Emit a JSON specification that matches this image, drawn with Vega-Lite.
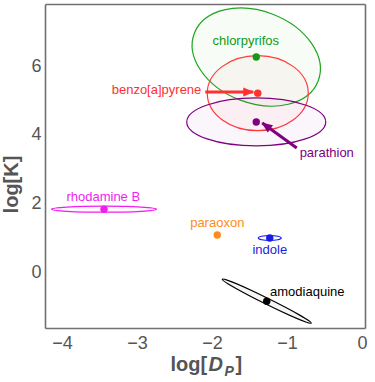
{
  "$schema": "https://vega.github.io/schema/vega-lite/v6.json",
  "width": 320,
  "height": 324,
  "autosize": "none",
  "padding": {"left": 45, "top": 4, "right": 10, "bottom": 54},
  "background": "white",
  "config": {"view": {"stroke": null}},
  "data": {"values": [
    {"name": "chlorpyrifos", "x": -1.41, "y": 6.26, "lx": -1.55, "ly": 6.73},
    {"name": "benzo[a]pyrene", "x": -1.39, "y": 5.21, "lx": -2.74, "ly": 5.3, "ax": -2.09, "ay": 5.24, "ax2": -1.45, "ay2": 5.24},
    {"name": "parathion", "x": -1.41, "y": 4.37, "lx": -0.47, "ly": 3.47, "ax": -0.87, "ay": 3.61, "ax2": -1.33, "ay2": 4.34},
    {"name": "rhodamine B", "x": -3.44, "y": 1.83, "lx": -3.45, "ly": 2.18},
    {"name": "paraoxon", "x": -1.93, "y": 1.08, "lx": -1.93, "ly": 1.43},
    {"name": "indole", "x": -1.23, "y": 0.99, "lx": -1.23, "ly": 0.64},
    {"name": "amodiaquine", "x": -1.27, "y": -0.85, "lx": -0.73, "ly": -0.58}
  ]},
  "resolve": {"axis": {"x": "independent", "y": "independent"}},
  "layer": [
    {
      "transform": [{"filter": "datum.name != 'paraoxon'"}],
      "mark": {"type": "point", "filled": true, "size": 4, "opacity": 1, "fillOpacity": 0.035, "strokeOpacity": 1, "strokeWidth": 1.2},
      "encoding": {
        "x": {"field": "x", "type": "quantitative", "scale": {"domain": [-4.227, 0.04], "nice": false, "zero": false},
          "axis": {"orient": "bottom", "values": [-4.2,-4,-3.8,-3.6,-3.4,-3.2,-3,-2.8,-2.6,-2.4,-2.2,-2,-1.8,-1.6,-1.4,-1.2,-1,-0.8,-0.6,-0.4,-0.2,0],
            "format": ".0f", "labelExpr": "abs(datum.value-round(datum.value))<0.01 ? datum.label : ''",
            "tickSize": 0, "labelPadding": 6, "labelFontSize": 18, "labelColor": "#555555", "labelFont": "Liberation Sans",
            "labelFlush": false, "labelOverlap": false, "grid": false,
            "domainColor": "#707070", "domainWidth": 1.6, "tickColor": "#707070", "tickWidth": 1.1,
            "title": "log[", "titleFont": "Liberation Sans", "titleFontWeight": "bold", "titleFontSize": 20, "titleColor": "#555555",
            "titleX": 125, "titleY": 42, "titleAlign": "left", "titleBaseline": "alphabetic", "titleAnchor": "start",
            "encode": {"ticks": {"update": {"y2": {"signal": "abs(datum.value-round(datum.value))<0.01 ? -6 : -3.5"}}}}}},
        "y": {"field": "y", "type": "quantitative", "scale": {"domain": [-1.631, 7.806], "nice": false, "zero": false},
          "axis": {"orient": "left", "values": [-1.5,-1,-0.5,0,0.5,1,1.5,2,2.5,3,3.5,4,4.5,5,5.5,6,6.5,7,7.5],
            "format": ".0f", "labelExpr": "abs(datum.value/2-round(datum.value/2))<0.01 ? datum.label : ''",
            "tickSize": 0, "labelPadding": 4, "labelFontSize": 18, "labelColor": "#555555", "labelFont": "Liberation Sans",
            "labelFlush": false, "labelOverlap": false, "grid": false,
            "domainColor": "#707070", "domainWidth": 1.6, "tickColor": "#707070", "tickWidth": 1.1,
            "title": "log[K]", "titleFont": "Liberation Sans", "titleFontWeight": "bold", "titleFontSize": 20, "titleColor": "#555555",
            "titleX": -34, "titleY": 180, "titleAlign": "center", "titleBaseline": "middle", "titleAngle": -90,
            "encode": {"ticks": {"update": {"x2": {"signal": "abs(datum.value/2-round(datum.value/2))<0.01 ? 6 : 3.5"}}}}}},
        "shape": {"field": "name", "type": "nominal", "legend": null, "scale": {
          "domain": ["chlorpyrifos", "benzo[a]pyrene", "parathion", "rhodamine B", "indole", "amodiaquine"],
          "range": [
            "M -61.9 -23.9 A 66.3 45.9 21.1 1 0 61.9 23.9 A 66.3 45.9 21.1 1 0 -61.9 -23.9 Z",
            "M -50.5 0 A 50.5 37.5 0 1 0 50.5 0 A 50.5 37.5 0 1 0 -50.5 0 Z",
            "M -69.5 0 A 69.5 24 0 1 0 69.5 0 A 69.5 24 0 1 0 -69.5 0 Z",
            "M -52.5 0 A 52.5 3 0 1 0 52.5 0 A 52.5 3 0 1 0 -52.5 0 Z",
            "M -11.5 0 A 11.5 2.5 0 1 0 11.5 0 A 11.5 2.5 0 1 0 -11.5 0 Z",
            "M -44.5 -22 A 49.6 3 26.3 1 0 44.5 22 A 49.6 3 26.3 1 0 -44.5 -22 Z"
          ]}},
        "fill": {"field": "name", "type": "nominal", "legend": null, "scale": {
          "domain": ["chlorpyrifos", "benzo[a]pyrene", "parathion", "rhodamine B", "paraoxon", "indole", "amodiaquine"],
          "range": ["#1fa51f", "#ff3b3b", "#800080", "#f01ef0", "#ff8c1a", "#1a1ae6", "#000000"]}},
        "stroke": {"field": "name", "type": "nominal", "legend": null, "scale": {
          "domain": ["chlorpyrifos", "benzo[a]pyrene", "parathion", "rhodamine B", "paraoxon", "indole", "amodiaquine"],
          "range": ["#1fa51f", "#ff3b3b", "#800080", "#f01ef0", "#ff8c1a", "#1a1ae6", "#000000"]}}
      }
    },
    {
      "mark": {"type": "circle", "size": 55, "opacity": 1},
      "encoding": {
        "x": {"field": "x", "type": "quantitative",
          "axis": {"orient": "top", "values": [-4.2,-4,-3.8,-3.6,-3.4,-3.2,-3,-2.8,-2.6,-2.4,-2.2,-2,-1.8,-1.6,-1.4,-1.2,-1,-0.8,-0.6,-0.4,-0.2,0],
            "labels": false, "tickSize": 0, "grid": false, "title": null,
            "domainColor": "#707070", "domainWidth": 1.6, "tickColor": "#707070", "tickWidth": 1.1,
            "encode": {"ticks": {"update": {"y2": {"signal": "abs(datum.value-round(datum.value))<0.01 ? 6 : 3.5"}}}}}},
        "y": {"field": "y", "type": "quantitative",
          "axis": {"orient": "right", "values": [-1.5,-1,-0.5,0,0.5,1,1.5,2,2.5,3,3.5,4,4.5,5,5.5,6,6.5,7,7.5],
            "labels": false, "tickSize": 0, "grid": false, "title": null,
            "domainColor": "#707070", "domainWidth": 1.6, "tickColor": "#707070", "tickWidth": 1.1,
            "encode": {"ticks": {"update": {"x2": {"signal": "abs(datum.value/2-round(datum.value/2))<0.01 ? -6 : -3.5"}}}}}},
        "color": {"field": "name", "type": "nominal", "legend": null, "scale": {
          "domain": ["chlorpyrifos", "benzo[a]pyrene", "parathion", "rhodamine B", "paraoxon", "indole", "amodiaquine"],
          "range": ["#139a13", "#ff3030", "#800080", "#f01ef0", "#ff8c1a", "#1a1ae6", "#000000"]}}
      }
    },
    {
      "mark": {"type": "text", "fontSize": 13, "font": "Liberation Sans", "align": "center", "baseline": "middle"},
      "encoding": {
        "x": {"field": "lx", "type": "quantitative",
          "axis": {"orient": "bottom", "domain": false, "ticks": false, "labels": false, "grid": false,
            "title": "D", "titleFont": "Liberation Sans", "titleFontWeight": "bold", "titleFontStyle": "italic", "titleFontSize": 20, "titleColor": "#555555",
            "titleX": 163, "titleY": 42, "titleAlign": "left", "titleBaseline": "alphabetic", "titleAnchor": "start"}},
        "y": {"field": "ly", "type": "quantitative", "axis": null},
        "text": {"field": "name", "type": "nominal"},
        "color": {"field": "name", "type": "nominal", "legend": null}
      }
    },
    {
      "transform": [{"filter": "isValid(datum.ax)"}],
      "mark": {"type": "rule", "strokeWidth": 3},
      "encoding": {
        "x": {"field": "ax", "type": "quantitative",
          "axis": {"orient": "bottom", "domain": false, "ticks": false, "labels": false, "grid": false,
            "title": "P", "titleFont": "Liberation Sans", "titleFontWeight": "bold", "titleFontStyle": "italic", "titleFontSize": 14, "titleColor": "#555555",
            "titleX": 179, "titleY": 47, "titleAlign": "left", "titleBaseline": "alphabetic", "titleAnchor": "start"}},
        "y": {"field": "ay", "type": "quantitative", "axis": null},
        "x2": {"field": "ax2"},
        "y2": {"field": "ay2"},
        "color": {"field": "name", "type": "nominal", "legend": null}
      }
    },
    {
      "transform": [{"filter": "datum.name == 'benzo[a]pyrene'"}],
      "mark": {"type": "point", "filled": true, "size": 4, "opacity": 1, "strokeWidth": 0, "angle": 0, "shape": "M 1 0 L -10 -4.5 L -10 4.5 Z"},
      "encoding": {
        "x": {"field": "ax2", "type": "quantitative",
          "axis": {"orient": "bottom", "domain": false, "ticks": false, "labels": false, "grid": false,
            "title": "]", "titleFont": "Liberation Sans", "titleFontWeight": "bold", "titleFontSize": 20, "titleColor": "#555555",
            "titleX": 190, "titleY": 42, "titleAlign": "left", "titleBaseline": "alphabetic", "titleAnchor": "start"}},
        "y": {"field": "ay2", "type": "quantitative", "axis": null},
        "color": {"field": "name", "type": "nominal", "legend": null}
      }
    },
    {
      "transform": [{"filter": "datum.name == 'parathion'"}],
      "mark": {"type": "point", "filled": true, "size": 4, "opacity": 1, "strokeWidth": 0, "angle": 215.5, "shape": "M 1 0 L -10 -4.5 L -10 4.5 Z"},
      "encoding": {
        "x": {"field": "ax2", "type": "quantitative", "axis": null},
        "y": {"field": "ay2", "type": "quantitative", "axis": null},
        "color": {"field": "name", "type": "nominal", "legend": null}
      }
    }
  ]
}
